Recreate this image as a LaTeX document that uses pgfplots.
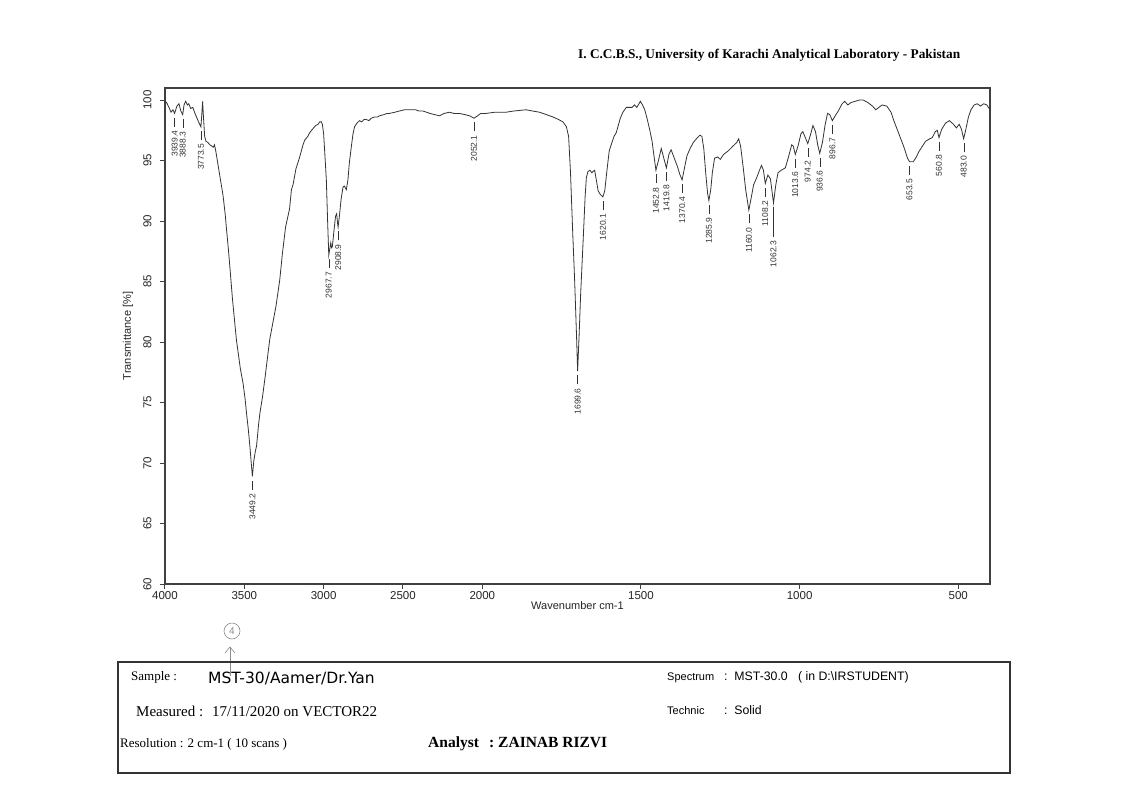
\documentclass[border=0pt]{standalone}
\usepackage{pgfplots}
\usepackage{pgfplotstable}
\pgfplotsset{compat=1.18}
\usepackage{fontspec}
\setmainfont{Liberation Sans}
\newfontfamily\seriffont{Liberation Serif}
\newfontfamily\handfont{DejaVu Sans}

\pgfplotstableread{
wn T
4000 99.9
3990 99.8
3975 99.4
3962 99.0
3950 99.2
3939.4 98.9
3925 99.5
3912 99.7
3900 99.1
3888.3 98.8
3880 99.6
3870 99.9
3858 99.6
3850 99.7
3838 99.3
3825 99.4
3811 98.9
3795 98.4
3785 98.1
3773.5 97.8
3768 98.8
3763 99.9
3757 98.5
3750 97.0
3742 96.6
3730 96.5
3717 96.3
3705 96.2
3696 96.1
3688 96.3
3680 95.8
3670 95.0
3654 93.7
3640 92.6
3633 92.0
3620 90.5
3612 89.3
3600 87.6
3591 86.2
3575 83.6
3550 80.2
3525 77.8
3508 76.6
3495 75.3
3486 74.1
3475 72.8
3465 71.4
3455 69.8
3449.2 68.9
3440 70.2
3430 71.0
3423 71.4
3410 73.2
3402 74.1
3385 75.5
3371 76.9
3340 80.2
3300 83.0
3277 85.1
3260 87.3
3240 89.5
3215 91.0
3203 92.6
3193 93.0
3175 94.3
3151 95.3
3130 96.3
3119 96.7
3100 97.0
3088 97.3
3070 97.6
3050 97.9
3035 98.0
3025 98.2
3015 98.2
3008 98.0
3000 97.2
2990 95.0
2983 93.4
2975 90.0
2967.7 87.2
2960 87.8
2955 88.2
2950 87.8
2945 87.9
2935 89.2
2925 90.4
2918 90.6
2912 89.8
2908.9 89.5
2900 90.5
2890 91.8
2878 92.8
2870 92.9
2857 92.6
2847 93.4
2838 94.8
2826 96.1
2815 97.2
2805 97.8
2790 98.1
2774 98.3
2760 98.2
2745 98.4
2732 98.4
2715 98.3
2700 98.5
2680 98.6
2660 98.6
2648 98.7
2620 98.8
2600 98.9
2585 98.9
2550 99.0
2522 99.1
2490 99.2
2459 99.2
2420 99.2
2400 99.1
2375 99.1
2330 98.9
2300 98.8
2270 98.7
2240 98.9
2207 99.0
2180 98.9
2145 98.9
2110 98.8
2080 98.7
2052.1 98.5
2030 98.7
2010 98.9
2000 98.9
1988 98.9
1960 99.0
1925 99.0
1900 99.1
1862 99.2
1842 99.1
1820 99.0
1798 98.8
1777 98.6
1760 98.4
1746 98.2
1735 97.8
1728 97.0
1722 94.0
1715 89.0
1709 85.1
1703 80.5
1699.6 77.6
1695 80.5
1690 84.0
1682 88.5
1676 92.0
1672 93.6
1667 94.1
1661 94.2
1655 94.0
1651 94.1
1646 94.2
1640 93.3
1635 92.5
1628 92.2
1620.1 92.0
1614 92.5
1608 94.0
1600 95.8
1594 96.3
1585 97.0
1578 97.3
1565 98.5
1557 99.0
1546 99.4
1536 99.4
1528 99.4
1520 99.6
1513 99.4
1506 99.7
1502 99.9
1495 99.6
1488 99.2
1480 98.4
1472 97.5
1465 96.6
1458 95.2
1452.8 94.2
1445 95.0
1436 96.0
1428 95.2
1419.8 94.4
1412 95.5
1405 95.9
1395 95.2
1385 94.5
1378 93.9
1370.4 93.4
1362 94.5
1355 95.4
1345 96.0
1335 96.5
1322 96.9
1314 97.1
1308 97.0
1302 96.0
1296 94.0
1290 92.3
1285.9 91.7
1280 92.6
1275 94.0
1268 95.2
1258 95.3
1250 95.1
1240 95.5
1225 95.8
1210 96.2
1198 96.5
1192 96.8
1186 96.2
1178 94.5
1170 92.6
1160 90.9
1152 92.0
1145 93.0
1135 93.6
1125 94.3
1120 94.6
1114 94.2
1108.2 93.1
1100 93.8
1092 93.5
1082.3 91.5
1075 93.0
1068 94.0
1058 94.2
1045 94.4
1035 95.3
1025 96.3
1020 96.2
1013.6 95.5
1005 96.2
996 97.2
990 97.4
982 96.9
974.2 96.4
965 97.2
958 97.9
950 97.4
943 96.3
936.6 95.6
928 96.5
920 97.9
912 98.9
905 98.8
896.7 98.3
888 98.7
878 99.1
866 99.7
858 99.9
848 99.6
838 99.8
825 99.9
812 100.0
799 100.0
785 99.8
770 99.5
760 99.2
750 99.4
740 99.6
725 99.5
712 99.0
703 98.3
687 97.2
671 96.1
660 95.2
653.5 94.9
642 94.9
632 95.3
625 95.7
603 96.6
590 96.8
582 96.9
572 97.4
566 97.5
560.8 96.9
552 97.6
540 98.1
528 98.3
515 98.0
506 97.7
497 98.0
490 97.6
483 96.8
476 97.6
468 98.6
460 99.2
450 99.6
440 99.7
430 99.5
420 99.7
410 99.6
400 99.2
}\spectrum

\pgfplotstableread{
wn T lab
3939.4 98.9 3939.4
3888.3 98.8 3888.3
3773.5 97.8 3773.5
3449.2 68.9 3449.2
2967.7 87.2 2967.7
2908.9 89.5 2908.9
2052.1 98.5 2052.1
1699.6 77.6 1699.6
1620.1 92.0 1620.1
1452.8 94.2 1452.8
1419.8 94.4 1419.8
1370.4 93.4 1370.4
1285.9 91.7 1285.9
1160.0 90.9 1160.0
1108.2 93.1 1108.2
1013.6 95.5 1013.6
974.2 96.4 974.2
936.6 95.6 936.6
896.7 98.3 896.7
653.5 94.9 653.5
560.8 96.9 560.8
483.0 96.8 483.0
}\peaks

\pgfplotstableread{
wn T lab
1082.3 91.5 1062.3
}\longpeaks

\begin{document}
\begin{tikzpicture}
\useasboundingbox (0pt,0pt) rectangle (1121pt,-802pt);
\fill[white] (0pt,0pt) rectangle (1121pt,-802pt);

\node[anchor=base west, inner sep=0pt, font=\seriffont\bfseries\fontsize{13.3}{15}\selectfont] at (578pt,-59pt)
  {I. C.C.B.S., University of Karachi Analytical Laboratory - Pakistan};

\begin{axis}[
  at={(165pt,-584pt)}, anchor=south west,
  scale only axis, width=825pt, height=496pt,
  x dir=reverse, xmin=400, xmax=3000, ymin=60, ymax=101,
  xtick={3000,2750,2500,2250,2000,1500,1000,500},
  xticklabels={4000,3500,3000,2500,2000,1500,1000,500},
  ytick={60,65,...,100},
  yticklabel style={rotate=90, anchor=south},
  yticklabel shift=5pt,
  xticklabel shift=-1pt,
  /pgf/number format/assume math mode=true,
  tick align=outside, xtick pos=lower, ytick pos=left,
  major tick length=5pt,
  axis line style={line width=1.3pt, black!75},
  every tick/.style={line width=1pt, black!75},
  tick label style={font=\fontsize{11.5}{13}\selectfont, text=black!85},
  xlabel={Wavenumber cm-1}, ylabel={Transmittance [\%]},
  label style={font=\fontsize{11}{13}\selectfont, text=black!85},
  xlabel style={at={(axis description cs:0.5,-0.0444)}, anchor=center},
  ylabel style={at={(axis description cs:-0.0448,0.5)}, anchor=center},
]
\addplot[black!80, line width=0.8pt] table[x expr={\thisrow{wn}>2000 ? 2000+(\thisrow{wn}-2000)/2 : \thisrow{wn}}, y=T] {\spectrum};
\addplot[draw=none, point meta=explicit symbolic,
  nodes near coords={\pgfplotspointmeta\kern4pt\rule[0.55ex]{9pt}{0.6pt}\kern4pt},
  nodes near coords style={rotate=90, anchor=east, inner sep=0pt, font=\fontsize{8.5}{10}\selectfont, text=black!80}]
  table[x expr={\thisrow{wn}>2000 ? 2000+(\thisrow{wn}-2000)/2 : \thisrow{wn}}, y=T, meta=lab] {\peaks};
\addplot[draw=none, point meta=explicit symbolic,
  nodes near coords={\pgfplotspointmeta\kern4pt\rule[0.55ex]{30pt}{0.6pt}\kern4pt},
  nodes near coords style={rotate=90, anchor=east, inner sep=0pt, font=\fontsize{8.5}{10}\selectfont, text=black!80}]
  table[x expr={\thisrow{wn}>2000 ? 2000+(\thisrow{wn}-2000)/2 : \thisrow{wn}}, y=T, meta=lab] {\longpeaks};
\end{axis}

% handwritten mark
\draw[black!45, line width=0.6pt] (232pt,-631pt) circle (8pt);
\node[black!45, font=\fontsize{10}{10}\selectfont] at (232pt,-631pt) {4};
\draw[black!45, line width=0.6pt] (230pt,-676pt) -- (230pt,-647pt);
\draw[black!45, line width=0.6pt] (225pt,-653pt) -- (230pt,-647pt) -- (235pt,-653pt);

% info box
\draw[black!80, line width=1.8pt] (118pt,-662pt) rectangle (1010pt,-773pt);
\node[anchor=base west, inner sep=0pt, font=\seriffont\fontsize{13}{15}\selectfont] at (131pt,-680pt) {Sample :};
\node[anchor=base west, inner sep=0pt, font=\handfont\fontsize{15.5}{17}\selectfont] at (208pt,-683pt) {MST-30/Aamer/Dr.Yan};
\node[anchor=base west, inner sep=0pt, font=\seriffont\fontsize{15}{17}\selectfont] at (136pt,-716pt) {Measured :};
\node[anchor=base west, inner sep=0pt, font=\seriffont\fontsize{15}{17}\selectfont] at (212pt,-716pt) {17/11/2020 on VECTOR22};
\node[anchor=base west, inner sep=0pt, font=\seriffont\fontsize{13}{15}\selectfont] at (120pt,-747pt) {Resolution : 2 cm-1 ( 10 scans )};
\node[anchor=base west, inner sep=0pt, font=\seriffont\bfseries\fontsize{15.5}{17}\selectfont] at (428pt,-747pt) {Analyst};
\node[anchor=base west, inner sep=0pt, font=\seriffont\bfseries\fontsize{15.5}{17}\selectfont] at (489pt,-747pt) {:\ ZAINAB RIZVI};
\node[anchor=base west, inner sep=0pt, font=\fontsize{11}{13}\selectfont] at (667pt,-680pt) {Spectrum};
\node[anchor=base west, inner sep=0pt, font=\fontsize{12.3}{14}\selectfont] at (724pt,-680pt) {:\ \ MST-30.0\ \ \ ( in D:\textbackslash IRSTUDENT)};
\node[anchor=base west, inner sep=0pt, font=\fontsize{11}{13}\selectfont] at (667pt,-714pt) {Technic};
\node[anchor=base west, inner sep=0pt, font=\fontsize{12.3}{14}\selectfont] at (724pt,-714pt) {:\ \ Solid};
\end{tikzpicture}
\end{document}
